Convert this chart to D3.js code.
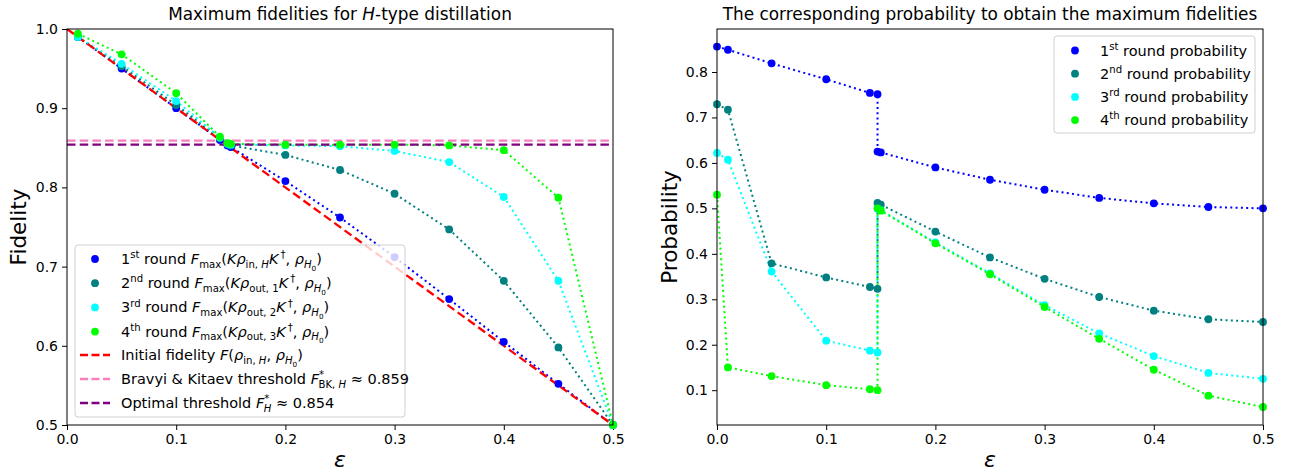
<!DOCTYPE html>
<html lang="en">
<head>
<meta charset="UTF-8">
<title>Maximum fidelities for H-type distillation</title>
<script src="https://d3js.org/d3.v7.min.js"></script>
<style>
    body { margin: 0; background: #fff; }
    text { font-family: "DejaVu Sans", sans-serif; fill: #000; }
    .tick text { font-size: 14px; }
</style>
</head>
<body>
<div id="chart"></div>
<script>
    // epsilon values for the fidelity panel
    const epsFid = [0.01, 0.05, 0.1, 0.14, 0.147, 0.15, 0.2, 0.25, 0.3, 0.35, 0.4, 0.45, 0.5];
    const fid1 = [0.990, 0.950, 0.900, 0.860, 0.853, 0.851, 0.808, 0.762, 0.712, 0.659, 0.605, 0.552, 0.500];
    const fid2 = [0.990, 0.953, 0.904, 0.862, 0.855, 0.853, 0.841, 0.822, 0.792, 0.747, 0.682, 0.598, 0.500];
    const fid3 = [0.990, 0.956, 0.909, 0.863, 0.855, 0.854, 0.853, 0.852, 0.846, 0.832, 0.788, 0.682, 0.500];
    const fid4 = [0.994, 0.968, 0.919, 0.864, 0.856, 0.855, 0.854, 0.854, 0.854, 0.853, 0.847, 0.787, 0.500];

    // initial fidelity line and thresholds
    const initEps = [0, 0.5];
    const initFid = [1.0, 0.5];
    const bkThreshold = 0.859;
    const optThreshold = 0.854;

    // epsilon values for the probability panel (jump at the threshold)
    const epsProb = [0, 0.01, 0.05, 0.1, 0.14, 0.147, 0.147, 0.15, 0.2, 0.25, 0.3, 0.35, 0.4, 0.45, 0.5];
    const prob1 = [0.856, 0.849, 0.819, 0.784, 0.754, 0.751, 0.625, 0.623, 0.590, 0.563, 0.541, 0.523, 0.511, 0.503, 0.500];
    const prob2 = [0.729, 0.717, 0.379, 0.348, 0.327, 0.323, 0.512, 0.508, 0.449, 0.392, 0.345, 0.305, 0.275, 0.256, 0.250];
    const prob3 = [0.622, 0.607, 0.361, 0.209, 0.187, 0.183, 0.499, 0.496, 0.425, 0.357, 0.287, 0.225, 0.175, 0.138, 0.125];
    const prob4 = [0.530, 0.150, 0.131, 0.111, 0.102, 0.100, 0.500, 0.495, 0.423, 0.355, 0.283, 0.213, 0.145, 0.088, 0.063];

    const xTicks = [0, 0.1, 0.2, 0.3, 0.4, 0.5];
    const fidTicks = [0.5, 0.6, 0.7, 0.8, 0.9, 1.0];
    const probTicks = [0.1, 0.2, 0.3, 0.4, 0.5, 0.6, 0.7, 0.8];

    const roundColors = ["#0000ff", "#008080", "#00ffff", "#00ff00"];
    const ords = [["1", "st"], ["2", "nd"], ["3", "rd"], ["4", "th"]];

    const W = 1295, H = 473;
    const svg = d3.select("#chart").append("svg")
        .attr("width", W)
        .attr("height", H);

    // writes a list of [text, style] pieces as tspans (super/subscripts);
    // a style ending in "!" is stacked under the previous superscript
    function richText(sel, parts, size) {
        let off = 0, prev = null;
        parts.forEach(([t, s0]) => {
            const stack = s0.endsWith("!");
            const s = stack ? s0.slice(0, -1) : s0;
            let fs = size, o = 0, it = false;
            if (s === "i") it = true;
            if (s === "sup") { fs = size * 0.7; o = -0.4 * size; }
            if (s === "sub") { fs = size * 0.7; o = 0.25 * size; }
            if (s === "subi") { fs = size * 0.7; o = 0.25 * size; it = true; }
            if (s === "subsub") { fs = size * 0.5; o = 0.45 * size; }
            const ts = sel.append("tspan")
                .attr("dy", o - off)
                .attr("font-size", fs)
                .attr("font-style", it ? "italic" : "normal")
                .text(t);
            if (stack && prev) ts.attr("dx", -prev.node().getComputedTextLength() - 0.5);
            prev = ts;
            off = o;
        });
    }

    function makePanel(left, right, yDomain, yTicks) {
        const top = 29, bottom = 425;
        const x = d3.scaleLinear().domain([0, 0.5]).range([left, right]);
        const y = d3.scaleLinear().domain(yDomain).range([bottom, top]);
        const g = svg.append("g");
        g.append("g")
            .attr("transform", `translate(0,${bottom})`)
            .call(d3.axisBottom(x).tickValues(xTicks).tickFormat(d3.format(".1f")).tickSize(5).tickPadding(4))
            .call(a => a.select(".domain").remove());
        g.append("g")
            .attr("transform", `translate(${left},0)`)
            .call(d3.axisLeft(y).tickValues(yTicks).tickFormat(d3.format(".1f")).tickSize(5).tickPadding(4))
            .call(a => a.select(".domain").remove());
        g.selectAll(".tick line").attr("stroke", "#000").attr("stroke-width", 1);
        g.selectAll(".tick text").attr("fill", "#000");
        const clipId = "clip" + left;
        svg.append("clipPath").attr("id", clipId)
            .append("rect").attr("x", left).attr("y", top)
            .attr("width", right - left).attr("height", bottom - top);
        const plot = svg.append("g").attr("clip-path", `url(#${clipId})`);
        return { x, y, g, plot, top, bottom, left, right };
    }

    function frame(p) {
        svg.append("rect")
            .attr("x", p.left).attr("y", p.top)
            .attr("width", p.right - p.left).attr("height", p.bottom - p.top)
            .attr("fill", "none").attr("stroke", "#000").attr("stroke-width", 1);
    }

    function dottedSeries(p, xs, ys, color) {
        const line = d3.line().x((d, i) => p.x(xs[i])).y(d => p.y(d));
        p.plot.append("path")
            .datum(ys)
            .attr("d", line)
            .attr("fill", "none")
            .attr("stroke", color)
            .attr("stroke-width", 2)
            .attr("stroke-dasharray", "2,3.3");
    }

    function dots(p, xs, ys, color) {
        svg.append("g").selectAll("circle")
            .data(ys)
            .enter().append("circle")
            .attr("cx", (d, i) => p.x(xs[i]))
            .attr("cy", d => p.y(d))
            .attr("r", 3.9)
            .attr("fill", color);
    }

    const dashPat = "8.5,4.2";

    // ---------- left panel: fidelities ----------
    const pf = makePanel(67, 613, [0.5, 1.0], fidTicks);
    const fids = [fid1, fid2, fid3, fid4];
    fids.forEach((f, k) => dottedSeries(pf, epsFid, f, roundColors[k]));
    fids.forEach((f, k) => dots(pf, epsFid, f, roundColors[k]));

    pf.plot.append("path")
        .datum(initFid)
        .attr("d", d3.line().x((d, i) => pf.x(initEps[i])).y(d => pf.y(d)))
        .attr("fill", "none").attr("stroke", "#ff0000")
        .attr("stroke-width", 2.3).attr("stroke-dasharray", dashPat);
    [[bkThreshold, "#f77fbe"], [optThreshold, "#800080"]].forEach(([v, c]) => {
        pf.plot.append("line")
            .attr("x1", pf.x(0)).attr("x2", pf.x(0.5))
            .attr("y1", pf.y(v)).attr("y2", pf.y(v))
            .attr("stroke", c).attr("stroke-width", 2.3).attr("stroke-dasharray", dashPat);
    });
    frame(pf);

    const tsize = 16.9;
    svg.append("text")
        .attr("x", (pf.left + pf.right) / 2).attr("y", 20)
        .attr("text-anchor", "middle").attr("font-size", tsize)
        .call(t => richText(t, [["Maximum fidelities for ", "n"], ["H", "i"], ["-type distillation", "n"]], tsize));
    svg.append("text")
        .attr("transform", "translate(26,227) rotate(-90)")
        .attr("text-anchor", "middle").attr("font-size", 21.5)
        .text("Fidelity");
    svg.append("text")
        .attr("x", (pf.left + pf.right) / 2).attr("y", 467)
        .attr("text-anchor", "middle").attr("font-size", 22).attr("font-style", "italic")
        .text("ε");

    // left legend
    const lg = svg.append("g");
    lg.append("rect")
        .attr("x", 75).attr("y", 245).attr("width", 330).attr("height", 172)
        .attr("rx", 3).attr("fill", "#fff").attr("fill-opacity", 0.8)
        .attr("stroke", "#d0d0d0").attr("stroke-width", 1);
    const outs = ["in, ", "out, 1", "out, 2", "out, 3"];
    const lsize = 14.5;
    fids.forEach((f, k) => {
        const yy = 259 + k * 24.2;
        lg.append("circle").attr("cx", 95).attr("cy", yy).attr("r", 3.9).attr("fill", roundColors[k]);
        const parts = [[ords[k][0], "n"], [ords[k][1], "sup"], [" round ", "n"], ["F", "i"], ["max", "sub"], ["(", "n"], ["Kρ", "i"]];
        if (k === 0) parts.push(["in, ", "sub"], ["H", "subi"]);
        else parts.push([outs[k], "sub"]);
        parts.push(["K", "i"], ["\u2009†", "sup"], [", ", "n"], ["ρ", "i"], ["H", "subi"], ["0", "subsub"], [")", "n"]);
        lg.append("text").attr("x", 121).attr("y", yy + 5).attr("font-size", lsize)
            .call(t => richText(t, parts, lsize));
    });
    const dashEntries = [
        ["#ff0000", [["Initial fidelity ", "n"], ["F", "i"], ["(", "n"], ["ρ", "i"], ["in, ", "sub"], ["H", "subi"], [", ", "n"], ["ρ", "i"], ["H", "subi"], ["0", "subsub"], [")", "n"]]],
        ["#f77fbe", [["Bravyi & Kitaev threshold ", "n"], ["F", "i"], ["*", "sup"], ["BK, ", "sub!"], ["H", "subi"], [" ≈ 0.859", "n"]]],
        ["#800080", [["Optimal threshold ", "n"], ["F", "i"], ["*", "sup"], ["H", "subi!"], [" ≈ 0.854", "n"]]]
    ];
    dashEntries.forEach(([c, parts], j) => {
        const yy = 355 + j * 24;
        lg.append("line").attr("x1", 80).attr("x2", 110).attr("y1", yy).attr("y2", yy)
            .attr("stroke", c).attr("stroke-width", 2.3).attr("stroke-dasharray", "8,3.5");
        lg.append("text").attr("x", 121).attr("y", yy + 5).attr("font-size", lsize)
            .call(t => richText(t, parts, lsize));
    });

    // ---------- right panel: probabilities ----------
    const pp = makePanel(717, 1263, [0.0234, 0.8946], probTicks);
    const probs = [prob1, prob2, prob3, prob4];
    probs.forEach((p, k) => dottedSeries(pp, epsProb, p, roundColors[k]));
    probs.forEach((p, k) => dots(pp, epsProb, p, roundColors[k]));
    frame(pp);

    svg.append("text")
        .attr("x", (pp.left + pp.right) / 2).attr("y", 20)
        .attr("text-anchor", "middle").attr("font-size", tsize)
        .text("The corresponding probability to obtain the maximum fidelities");
    svg.append("text")
        .attr("transform", "translate(677,227) rotate(-90)")
        .attr("text-anchor", "middle").attr("font-size", 21.5)
        .text("Probability");
    svg.append("text")
        .attr("x", (pp.left + pp.right) / 2).attr("y", 467)
        .attr("text-anchor", "middle").attr("font-size", 22).attr("font-style", "italic")
        .text("ε");

    const rg = svg.append("g");
    rg.append("rect")
        .attr("x", 1054).attr("y", 36).attr("width", 201).attr("height", 97)
        .attr("rx", 3).attr("fill", "#fff").attr("fill-opacity", 0.8)
        .attr("stroke", "#d0d0d0").attr("stroke-width", 1);
    probs.forEach((p, k) => {
        const yy = 50.5 + k * 23.2;
        rg.append("circle").attr("cx", 1075).attr("cy", yy).attr("r", 3.9).attr("fill", roundColors[k]);
        rg.append("text").attr("x", 1100).attr("y", yy + 5).attr("font-size", lsize)
            .call(t => richText(t, [[ords[k][0], "n"], [ords[k][1], "sup"], [" round probability", "n"]], lsize));
    });
</script>
</body>
</html>
